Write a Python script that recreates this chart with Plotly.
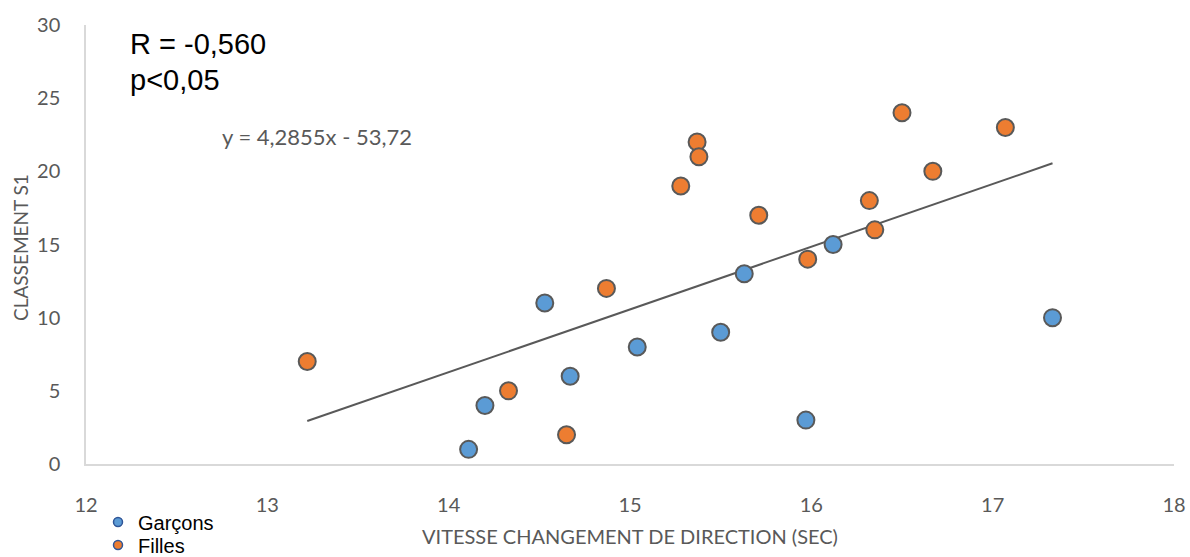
import plotly.graph_objects as go

# Data
garcons_x = [14.11, 14.20, 14.53, 14.67, 15.04, 15.50, 15.63, 15.97, 16.12, 17.33]
garcons_y = [1, 4, 11, 6, 8, 9, 13, 3, 15, 10]
filles_x = [13.22, 14.33, 14.65, 14.87, 15.28, 15.37, 15.38, 15.71, 15.98, 16.32, 16.35, 16.50, 16.67, 17.07]
filles_y = [7, 5, 2, 12, 19, 22, 21, 17, 14, 18, 16, 24, 20, 23]
slope = 4.2855
intercept = -53.72
x_ticks = [12, 13, 14, 15, 16, 17, 18]
y_ticks = [0, 5, 10, 15, 20, 25, 30]

all_x = garcons_x + filles_x
tx = [min(all_x), max(all_x)]
ty = [slope * v + intercept for v in tx]

BLUE = "#5B9BD5"
ORANGE = "#ED7D31"
EDGE = "#595959"
GREY = "#595959"
FONT = "Lato, Carlito, sans-serif"

L, R, T, B = 86, 16, 25, 93
W, H = 1190, 557
PW, PH = W - L - R, H - T - B

fig = go.Figure()
fig.add_trace(go.Scatter(x=tx, y=ty, mode="lines", line=dict(color="#595959", width=2),
                         showlegend=False, hoverinfo="skip"))
fig.add_trace(go.Scatter(x=garcons_x, y=garcons_y, mode="markers", showlegend=False,
                         marker=dict(size=17, color=BLUE, line=dict(color=EDGE, width=2))))
fig.add_trace(go.Scatter(x=filles_x, y=filles_y, mode="markers", showlegend=False,
                         marker=dict(size=17, color=ORANGE, line=dict(color=EDGE, width=2))))
# legend entries
fig.add_trace(go.Scatter(x=[None], y=[None], mode="markers", name="Garçons", legend="legend",
                         marker=dict(size=9, color=BLUE, line=dict(color="#2F5597", width=1.5))))
fig.add_trace(go.Scatter(x=[None], y=[None], mode="markers", name="Filles", legend="legend2",
                         marker=dict(size=9, color=ORANGE, line=dict(color="#2F5597", width=1.5))))

def px_to_paper_x(px):
    return (px - L) / PW

def px_to_paper_y(py):
    return (H - B - py) / PH

fig.add_annotation(x=px_to_paper_x(128), y=px_to_paper_y(44), xref="paper", yref="paper",
                   xanchor="left", yanchor="middle", text="R = -0,560", showarrow=False,
                   font=dict(family="Liberation Sans, Arial", size=29, color="#000000"))
fig.add_annotation(x=px_to_paper_x(128), y=px_to_paper_y(80), xref="paper", yref="paper",
                   xanchor="left", yanchor="middle", text="p<0,05", showarrow=False,
                   font=dict(family="Liberation Sans, Arial", size=29, color="#000000"))
fig.add_annotation(x=px_to_paper_x(220), y=px_to_paper_y(136), xref="paper", yref="paper",
                   xanchor="left", yanchor="middle", text="y = 4,2855x - 53,72", showarrow=False,
                   font=dict(family=FONT, size=22, color=GREY))
# axis titles
fig.add_annotation(x=px_to_paper_x(630), y=px_to_paper_y(536), xref="paper", yref="paper",
                   xanchor="center", yanchor="middle", text="VITESSE CHANGEMENT DE DIRECTION (SEC)",
                   showarrow=False, font=dict(family=FONT, size=20, color=GREY))
fig.add_annotation(x=px_to_paper_x(20), y=px_to_paper_y(248), xref="paper", yref="paper",
                   xanchor="center", yanchor="middle", text="CLASSEMENT S1", textangle=-90,
                   showarrow=False, font=dict(family=FONT, size=19, color=GREY))

legfont = dict(family="Liberation Sans, Arial", size=20, color="#000000")
fig.update_layout(
    width=W, height=H,
    margin=dict(l=L, r=R, t=T, b=B, autoexpand=False),
    paper_bgcolor="white", plot_bgcolor="white",
    font=dict(family=FONT, size=20, color=GREY),
    legend=dict(x=px_to_paper_x(98), y=px_to_paper_y(522), xanchor="left", yanchor="middle",
                font=legfont, bgcolor="rgba(0,0,0,0)", itemwidth=30),
    legend2=dict(x=px_to_paper_x(98), y=px_to_paper_y(545), xanchor="left", yanchor="middle",
                 font=legfont, bgcolor="rgba(0,0,0,0)", itemwidth=30),
    xaxis=dict(range=[12, 18], tickvals=x_ticks, showgrid=False, zeroline=False,
               showline=True, linecolor="#D9D9D9", linewidth=1.5, ticks="",
               ticklabelstandoff=22, automargin=False),
    yaxis=dict(range=[0, 30], tickvals=y_ticks, showgrid=False, zeroline=False,
               showline=True, linecolor="#D9D9D9", linewidth=1.5, ticks="",
               ticklabelstandoff=20, automargin=False),
)

fig.write_html("out.html", config={"displayModeBar": False},
               post_script="document.body.style.margin='0px';document.body.style.overflow='hidden';")
